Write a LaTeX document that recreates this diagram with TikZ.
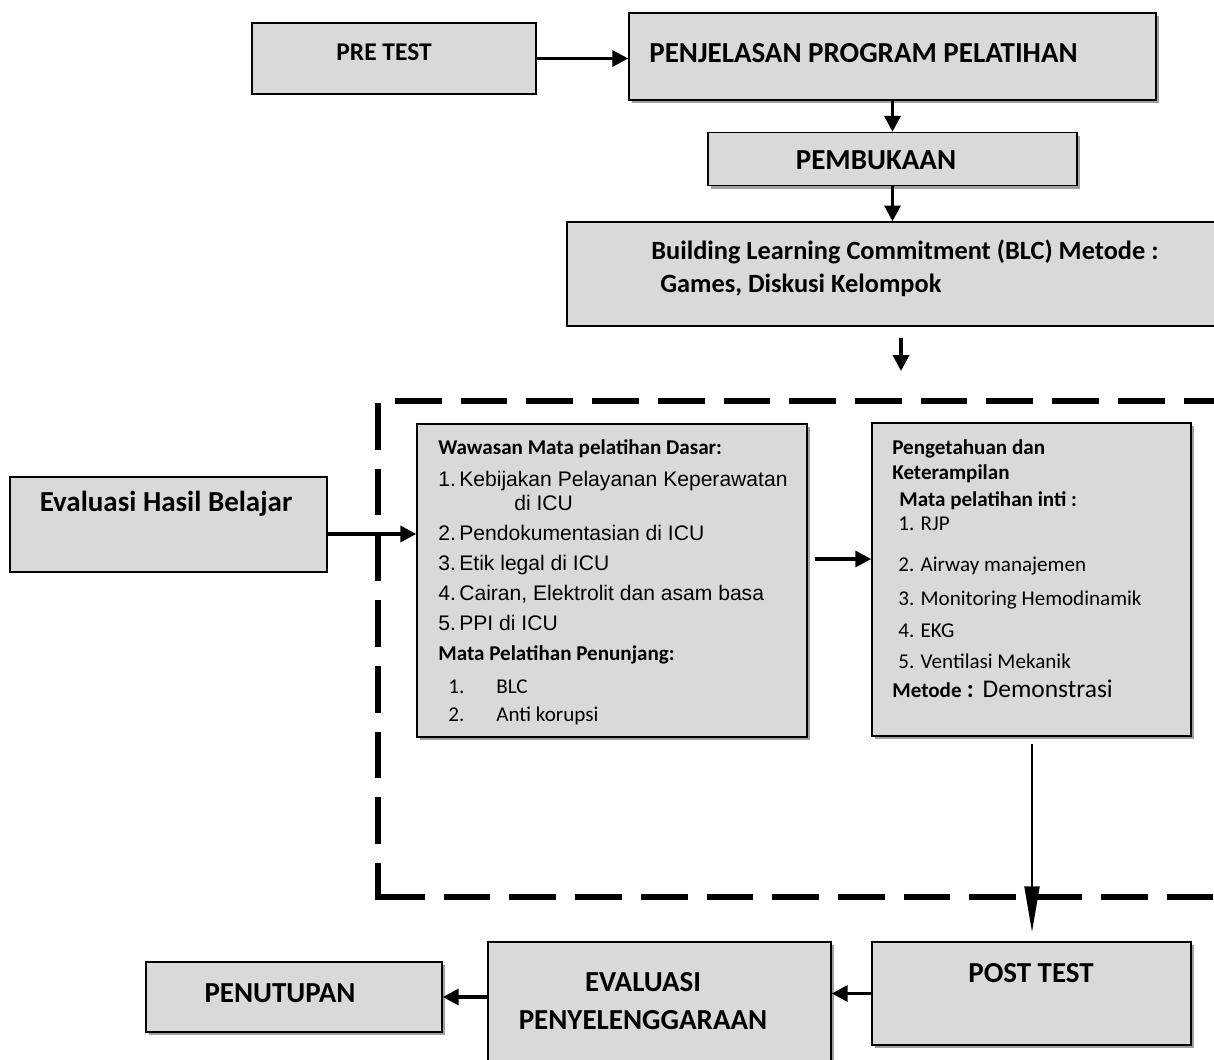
\documentclass[tikz,border=0pt]{standalone}
\usepackage{fontspec}
\setmainfont{Carlito}
\newfontfamily\arialfont{Liberation Sans}
\usetikzlibrary{arrows.meta,shadows,positioning}
\definecolor{boxgray}{RGB}{217,217,217}
\definecolor{shadowgray}{RGB}{160,160,160}

\begin{document}
\begin{tikzpicture}[x=0.02cm, y=-0.02cm,
    graybox/.style={draw, line width=0.9pt, fill=boxgray, inner sep=0pt},
    shadebox/.style={graybox, general shadow={fill=shadowgray, shadow xshift=1.7pt, shadow yshift=-1.7pt}},
    titletext/.style={inner sep=0pt, anchor=base, font=\bfseries\fontsize{16.5}{20}\selectfont},
    headtext/.style={inner sep=0pt, anchor=base west, font=\bfseries\fontsize{12}{14}\selectfont},
    listtext/.style={inner sep=0pt, anchor=base west, font=\fontsize{12}{14}\selectfont},
    arialtext/.style={inner sep=0pt, anchor=base west, font=\arialfont\fontsize{12}{14}\selectfont},
    flowarrow/.style={-{Triangle[length=9pt,width=9pt]}, line width=2pt},
    longarrow/.style={-{Triangle[length=26pt,width=8.5pt]}, line width=1.3pt},
    dashframe/.style={line width=3pt, dash pattern=on 26.6pt off 10.8pt}]
    \useasboundingbox (0,0) rectangle (1214,1060);
    \clip (0,0) rectangle (1214,1060);

    % dashed frame round the two lesson boxes
    \draw[dashframe] (395,401) -- (1220,401);
    \draw[dashframe] (378,403) -- (378,899.6);
    \draw[dashframe] (378,897) -- (1220,897);

    \node[graybox, minimum width=5.68cm, minimum height=1.42cm] (pretest) at (394,58.5) {};
    \node[titletext, font=\bfseries\fontsize{14.5}{17}\selectfont] (pretestlbl) at (384,61) {PRE TEST};

    \node[shadebox, minimum width=10.54cm, minimum height=1.74cm] (penjelasan) at (892.5,56.5) {};
    \node[titletext, anchor=base west] (penjelasanlbl) at (649,63) {PENJELASAN PROGRAM PELATIHAN};

    \node[shadebox, minimum width=7.38cm, minimum height=1.06cm, below=0.62cm of penjelasan] (pembukaan) {};
    \node[titletext] (pembukaanlbl) at (876,170) {PEMBUKAAN};

    \node[graybox, minimum width=13.02cm, minimum height=2.08cm, below=0.7cm of pembukaan] (blc) {};
    \node[titletext, anchor=base west, font=\bfseries\fontsize{15}{18}\selectfont] (blclbl) at (651,260) {Building Learning Commitment (BLC) Metode :};
    \node[titletext, anchor=base west, font=\bfseries\fontsize{15}{18}\selectfont] (blclbltwo) at (660,293) {Games, Diskusi Kelompok};

    \node[graybox, minimum width=6.34cm, minimum height=1.9cm] (evalhasil) at (168.5,524.5) {};
    \node[titletext] (evalhasillbl) at (166,512) {Evaluasi Hasil Belajar};

    % mata pelatihan dasar
    \node[shadebox, minimum width=7.8cm, minimum height=6.26cm] (wawasan) at (612,580.5) {};
    \node[headtext] (w1) at (438,455) {Wawasan Mata pelatihan Dasar:};
    \node[arialtext] (w2) at (438,487) {\makebox[0.42cm][l]{1.}Kebijakan Pelayanan Keperawatan};
    \node[arialtext] (w3) at (514,511) {di ICU};
    \node[arialtext] (w4) at (438,541) {\makebox[0.42cm][l]{2.}Pendokumentasian di ICU};
    \node[arialtext] (w5) at (438,571) {\makebox[0.42cm][l]{3.}Etik legal di ICU};
    \node[arialtext] (w6) at (438,601) {\makebox[0.42cm][l]{4.}Cairan, Elektrolit dan asam basa};
    \node[arialtext] (w7) at (438,631) {\makebox[0.42cm][l]{5.}PPI di ICU};
    \node[headtext] (w8) at (438,661) {Mata Pelatihan Penunjang:};
    \node[listtext] (w9) at (448,693) {\makebox[0.96cm][l]{1.}BLC};
    \node[listtext] (w10) at (448,721) {\makebox[0.96cm][l]{2.}Anti korupsi};

    % mata pelatihan inti
    \node[shadebox, minimum width=6.38cm, minimum height=6.26cm] (pengetahuan) at (1031.5,579.5) {};
    \node[headtext] (p1) at (892,455) {Pengetahuan dan};
    \node[headtext] (p2) at (892,480) {Keterampilan};
    \node[headtext] (p3) at (899,507) {Mata pelatihan inti :};
    \node[listtext] (p4) at (898,531) {1. RJP};
    \node[listtext] (p5) at (898,572) {2. Airway manajemen};
    \node[listtext] (p6) at (898,605) {3. Monitoring Hemodinamik};
    \node[listtext] (p7) at (898,638) {4. EKG};
    \node[listtext] (p8) at (898,668) {5. Ventilasi Mekanik};
    \node[listtext] (p9) at (892,697) {\textbf{Metode}\hspace{3pt}{\fontsize{14.5}{17}\selectfont\textbf{:}\hspace{5pt}Demonstrasi}};

    \node[shadebox, minimum width=6.38cm, minimum height=2.06cm] (posttest) at (1031.5,993.5) {};
    \node[titletext] (posttestlbl) at (1031,982) {POST TEST};

    \node[shadebox, minimum width=6.86cm, minimum height=2.66cm] (evalpeny) at (659.5,1008.5) {};
    \node[titletext] (evaluasilbl) at (643,991) {EVALUASI};
    \node[titletext] (penyelenggaraanlbl) at (643,1029) {PENYELENGGARAAN};

    \node[shadebox, minimum width=5.92cm, minimum height=1.4cm] (penutupan) at (294,997) {};
    \node[titletext] (penutupanlbl) at (280,1002) {PENUTUPAN};

    \coordinate (blcout) at (901,338);
    \coordinate (framein) at (901,371);
    \coordinate (midstart) at (815,559);
    \coordinate (longstart) at (1032,744);
    \coordinate (longend) at (1032,932);

    \draw[flowarrow] (pretest.east) -- (pretest.east -| penjelasan.west);
    \draw[flowarrow] (penjelasan.south) -- (pembukaan.north);
    \draw[flowarrow] (pembukaan.south) -- (blc.north);
    \draw[flowarrow] (blcout) -- (framein);
    \draw[flowarrow] ([yshift=-0.19cm]evalhasil.east) -- ([yshift=-0.19cm]evalhasil.east -| wawasan.west);
    \draw[flowarrow] (midstart) -- (midstart -| pengetahuan.west);
    \draw[longarrow] (longstart) -- (longend);
    \draw[flowarrow] (posttest.west) -- (posttest.west -| evalpeny.east);
    \draw[flowarrow] (penutupan.east -| evalpeny.west) -- (penutupan.east);
\end{tikzpicture}
\end{document}
